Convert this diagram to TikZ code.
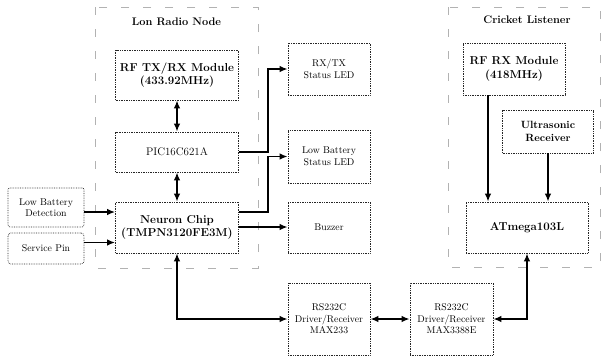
\documentclass[tikz,border=0pt]{standalone}
\usetikzlibrary{arrows.meta}
\begin{document}
\begin{tikzpicture}[x=1pt,y=-1pt,
  blk/.style={draw=black!85, line width=0.7pt, densely dotted, align=center, inner sep=1pt},
  big/.style={blk, font=\fontsize{11.5}{13.5}\selectfont\bfseries},
  small/.style={blk, font=\fontsize{9.8}{11.5}\selectfont},
  region/.style={draw=black!30, line width=0.6pt, dash pattern=on 8pt off 14pt},
  ttl/.style={font=\fontsize{11}{13}\selectfont\bfseries},
  conn/.style={line width=1.6pt, -{Latex[length=8pt,width=6.5pt]}},
  dconn/.style={line width=1.6pt, {Latex[length=8pt,width=6.5pt]}-{Latex[length=8pt,width=6.5pt]}}]
\useasboundingbox (0,0) rectangle (602,360);
\fill[white] (0,0) rectangle (602,360);

% regions
\draw[region] (95,7) rectangle (258,268);
\draw[region] (448,7) rectangle (600,267);
\node[ttl] (t1) at (176.5,22) {Lon Radio Node};
\node[ttl] (t2) at (527,20) {Cricket Listener};

% Lon radio node blocks
\node[big, minimum width=123pt, minimum height=50pt] (rftx) at (177,75) {RF TX/RX Module\\(433.92MHz)};
\node[blk, font=\fontsize{11}{13}\selectfont, minimum width=123pt, minimum height=40pt] (pic) at (177,152) {PIC16C621A};
\node[big, minimum width=123pt, minimum height=51pt] (neuron) at (177,227.5) {Neuron Chip\\(TMPN3120FE3M)};

\node[small, rounded corners=2pt, minimum width=76pt, minimum height=39pt] (lbd) at (46,207.5) {Low Battery\\Detection};
\node[small, rounded corners=3pt, minimum width=76pt, minimum height=31pt] (sp) at (46,248.5) {Service Pin};

\node[small, minimum width=82pt, minimum height=52pt] (rxled) at (329,69) {RX/TX\\Status LED};
\node[small, minimum width=82pt, minimum height=53pt] (lbled) at (329,156.5) {Low Battery\\Status LED};
\node[small, minimum width=82pt, minimum height=51pt] (buz) at (329,227.5) {Buzzer};
\node[small, minimum width=82pt, minimum height=72pt] (m233) at (329,319) {RS232C\\Driver/Receiver\\MAX233};
\node[small, minimum width=83pt, minimum height=72pt] (m3388) at (451.5,319) {RS232C\\Driver/Receiver\\MAX3388E};

% Cricket listener blocks
\node[big, minimum width=102pt, minimum height=52pt] (rfrx) at (514,69) {RF RX Module\\(418MHz)};
\node[big, font=\fontsize{10.5}{13}\selectfont\bfseries, minimum width=91pt, minimum height=43pt] (us) at (548,131.5) {Ultrasonic\\Receiver};
\node[big, minimum width=122pt, minimum height=51pt] (atm) at (527,227.5) {ATmega103L};

% connectors
\coordinate (bx) at (268,0);
\coordinate (cx) at (488,0);
\draw[dconn] (rftx) -- (pic);
\draw[dconn] (pic) -- (neuron);
\draw[conn] (pic.east) -- (pic.east -| bx) |- (rxled.west);
\draw[conn] ([yshift=15.5pt]neuron.east) -- ([yshift=15.5pt]neuron.east -| bx) |- (lbled.west);
\draw[conn] ([yshift=0.5pt]neuron.east) -- ([yshift=0.5pt]buz.west);
\draw[conn] ([yshift=-4.5pt]lbd.east) -- ([yshift=-4.5pt]lbd.east -| neuron.west);
\draw[conn] ([yshift=6pt]sp.east) -- ([yshift=6pt]sp.east -| neuron.west);
\draw[dconn] (neuron.south) |- (m233.west);
\draw[dconn] (m233.east) -- (m3388.west);
\draw[dconn] (m3388.east) -| (atm.south);
\draw[conn] (cx |- rfrx.south) -- (cx |- atm.north);
\draw[conn] (us.south) -- (us.south |- atm.north);
\end{tikzpicture}
\end{document}
